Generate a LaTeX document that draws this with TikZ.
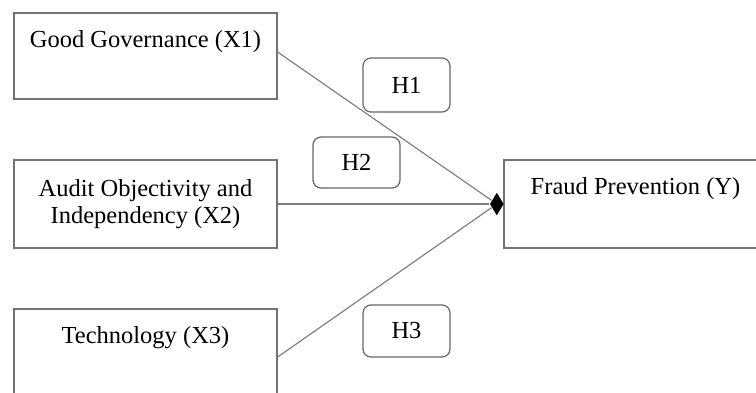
\documentclass[tikz,border=0pt]{standalone}
\usetikzlibrary{arrows.meta, positioning, shapes.geometric}
\usepackage{xcolor}
\usepackage{fontspec}
\setmainfont{Liberation Serif}
\def\boxwidth{263pt}

\begin{document}
\begin{tikzpicture}[x=1pt,y=-1pt,draw=black!50,line width=1.2pt]
    \tikzstyle{var box}=[rectangle,draw=black!55,minimum width=\boxwidth,minimum height=86pt,inner sep=0pt,text height=34pt,text depth=52pt,font=\fontsize{24.5}{27}\selectfont]
    \tikzstyle{var two}=[var box,text height=,text depth=,align=center,minimum height=88pt]
    \tikzstyle{hyp box}=[rectangle,rounded corners=8pt,draw=black!60,minimum width=87pt,minimum height=52pt,font=\fontsize{24.5}{27}\selectfont]
    \tikzstyle{joint}=[diamond,fill=black,draw=none,inner sep=0pt,minimum width=14pt,minimum height=23pt]
    \tikzstyle{link}=[black!50,line width=1.2pt]

    \useasboundingbox (0,0) rectangle (756,392);
    \clip (0,0) rectangle (756,392);

    % Draw the independent variables
    \node[var box] (x1) at (145.5,56) {Good Governance (X1)};
    \node[var two] (x2) at (145.5,204) {Audit Objectivity and\\Independency (X2)};
    \node[var box] (x3) at (145.5,352) {Technology (X3)};

    % Draw the dependent variable
    \node[var box,minimum height=88pt,text depth=54pt] (y) at (635.5,204) {Fraud Prevention (Y)};
    \node[joint,anchor=east] (j) at ([xshift=1pt]y.west) {};

    % Draw the hypotheses
    \node[hyp box,minimum height=54pt] (h1) at (406.5,85) {H1};
    \node[hyp box,minimum height=51pt] (h2) at (356.5,162.5) {H2};
    \node[hyp box] (h3) at (406.5,331) {H3};

    % Connect the variables
    \draw[link] ([yshift=4pt]x1.east) -- (j);
    \draw[link] (x2.east) -- (j);
    \draw[link] ([yshift=-5pt]x3.east) -- (j);
\end{tikzpicture}
\end{document}
